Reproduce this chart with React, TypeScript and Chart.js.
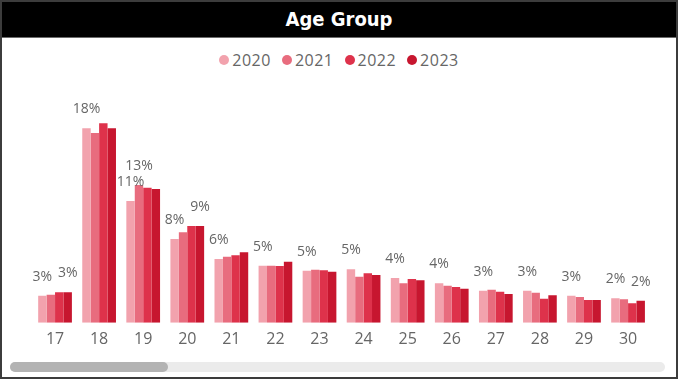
import React, { useEffect, useRef } from "react";
import { Chart, registerables } from "chart.js";

Chart.register(...registerables);

const categories = ["17", "18", "19", "20", "21", "22", "23", "24", "25", "26", "27", "28", "29", "30"];
const years = ["2020", "2021", "2022", "2023"];
const colors = ["#F2A2AD", "#E86C7E", "#DE324B", "#C7162F"];

const v2020 = [2.5, 18.0, 11.27, 7.75, 5.9, 5.28, 4.81, 4.94, 4.14, 3.65, 2.96, 2.96, 2.5, 2.26];
const v2021 = [2.59, 17.56, 12.75, 8.37, 6.11, 5.28, 4.91, 4.26, 3.65, 3.43, 3.06, 2.78, 2.38, 2.17];
const v2022 = [2.81, 18.46, 12.5, 8.95, 6.24, 5.25, 4.85, 4.57, 4.05, 3.31, 2.87, 2.22, 2.1, 1.8];
const v2023 = [2.81, 18.0, 12.38, 8.95, 6.52, 5.65, 4.72, 4.42, 3.93, 3.15, 2.66, 2.54, 2.1, 2.04];
const seriesValues = [v2020, v2021, v2022, v2023];

// which series show a data label in each category (others hidden to avoid overlap)
const labelledSeries = [[0, 3], [0], [0, 1], [0, 3], [0], [0], [0], [0], [0], [0], [0], [0], [0], [0, 3]];

const TEXT_GRAY = "#666666";

const dataLabelPlugin = {
  id: "dataLabels",
  afterDatasetsDraw(chart: any) {
    const ctx = chart.ctx;
    ctx.save();
    ctx.font = '14px "Open Sans"';
    ctx.fillStyle = TEXT_GRAY;
    ctx.textAlign = "center";
    ctx.textBaseline = "middle";
    labelledSeries.forEach((dsList, i) => {
      dsList.forEach((d) => {
        const meta = chart.getDatasetMeta(d);
        const el = meta.data[i];
        if (!el) return;
        const val = seriesValues[d][i];
        ctx.fillText(Math.round(val) + "%", el.x, el.y - 19);
      });
    });
    ctx.restore();
  },
};

export default function App() {
  const canvasRef = useRef<HTMLCanvasElement | null>(null);

  useEffect(() => {
    if (!canvasRef.current) return;
    const chart = new Chart(canvasRef.current, {
      type: "bar",
      data: {
        labels: categories,
        datasets: years.map((y, d) => ({
          label: y,
          data: seriesValues[d],
          backgroundColor: colors[d],
          borderWidth: 0,
          categoryPercentage: 0.765,
          barPercentage: 1.0,
        })),
      },
      options: {
        responsive: false,
        animation: false,
        devicePixelRatio: 1,
        layout: { padding: { left: 31, right: 25.9, top: 68.7, bottom: 1.3 } },
        plugins: {
          legend: { display: false },
          title: { display: false },
          tooltip: { enabled: false },
        },
        scales: {
          x: {
            grid: { display: false, drawTicks: false },
            border: { display: false },
            ticks: {
              color: TEXT_GRAY,
              font: { family: "Open Sans", size: 16 },
              padding: 7,
              maxRotation: 0,
              autoSkip: false,
            },
            afterFit: (scale: any) => {
              scale.height = 34;
            },
          },
          y: {
            display: false,
            min: 0,
            max: 20,
          },
        },
      },
      plugins: [dataLabelPlugin],
    } as any);
    return () => chart.destroy();
  }, []);

  return (
    <div
      style={{
        position: "absolute",
        left: 0,
        top: 0,
        width: 678,
        height: 379,
        background: "#ffffff",
        overflow: "hidden",
      }}
    >
      <div
        style={{
          position: "absolute",
          left: 0,
          top: 0,
          width: 678,
          height: 38,
          background: "#000000",
          color: "#ffffff",
          textAlign: "center",
          lineHeight: "38px",
          fontFamily: '"DejaVu Sans Condensed", "DejaVu Sans", sans-serif',
          fontWeight: "bold",
          fontSize: 20,
          borderBottom: "1px solid #6b6b6b",
          boxSizing: "border-box",
        }}
      >
        Age Group
      </div>
      <div
        style={{
          position: "absolute",
          left: 0,
          top: 49.5,
          width: 678,
          height: 20,
          display: "flex",
          justifyContent: "center",
          alignItems: "center",
          gap: 11,
          fontFamily: '"Open Sans", sans-serif',
          fontSize: 16,
          letterSpacing: 0.5,
          color: TEXT_GRAY,
        }}
      >
        {years.map((y, d) => (
          <div key={y} style={{ display: "flex", alignItems: "center" }}>
            <span
              style={{
                display: "inline-block",
                width: 10,
                height: 10,
                borderRadius: "50%",
                background: colors[d],
                marginRight: 3,
              }}
            />
            <span style={{ lineHeight: "20px" }}>{y}</span>
          </div>
        ))}
      </div>
      <canvas
        ref={canvasRef}
        width={674}
        height={320}
        style={{ position: "absolute", left: 2, top: 38, width: 674, height: 320 }}
      />
      <div
        style={{
          position: "absolute",
          left: 10,
          top: 362,
          width: 655,
          height: 10,
          borderRadius: 5,
          background: "#ebebeb",
        }}
      />
      <div
        style={{
          position: "absolute",
          left: 10,
          top: 362,
          width: 158,
          height: 10,
          borderRadius: 5,
          background: "#b3b3b3",
        }}
      />
      <div
        style={{
          position: "absolute",
          left: 0,
          top: 0,
          width: 678,
          height: 379,
          boxSizing: "border-box",
          border: "2px solid #3c3c3c",
          pointerEvents: "none",
        }}
      />
    </div>
  );
}
